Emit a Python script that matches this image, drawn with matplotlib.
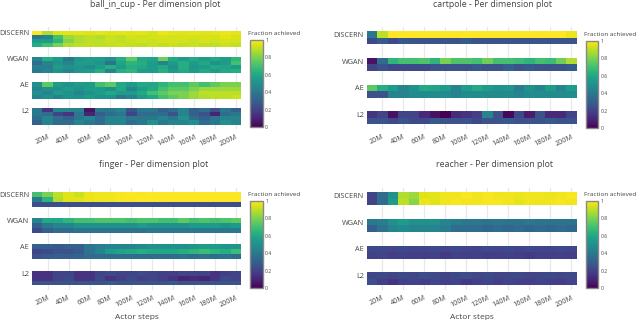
import matplotlib
matplotlib.use("Agg")
import matplotlib.pyplot as plt
import numpy as np

plt.rcParams['font.family'] = ['Open Sans', 'DejaVu Sans']

methods = ['DISCERN', 'WGAN', 'AE', 'L2']
steps = np.arange(10, 201, 10)          # millions of actor steps, one column each
tick_steps = np.arange(20, 201, 20)
tick_labels = ['%dM' % s for s in tick_steps]

# fraction achieved, per method -> per dimension (rows) -> per step (columns)
ball_in_cup = {
    'DISCERN': [
        [1.0, 0.88, 0.95, 0.96, 0.96, 0.95, 0.96, 0.95, 0.96, 0.95, 0.96, 0.94, 0.97, 0.96, 0.95, 0.96, 0.95, 0.96, 0.97, 0.96],
        [0.40, 0.45, 0.70, 0.85, 0.88, 0.90, 0.88, 0.92, 0.90, 0.93, 0.92, 0.93, 0.94, 0.93, 0.94, 0.93, 0.94, 0.93, 0.96, 0.94],
        [0.55, 0.55, 0.65, 0.82, 0.88, 0.90, 0.90, 0.92, 0.91, 0.92, 0.93, 0.92, 0.93, 0.94, 0.93, 0.92, 0.94, 0.93, 0.94, 0.93],
        [0.62, 0.70, 0.80, 0.88, 0.90, 0.91, 0.90, 0.91, 0.92, 0.91, 0.90, 0.92, 0.91, 0.92, 0.91, 0.92, 0.91, 0.90, 0.92, 0.91],
    ],
    'WGAN': [
        [0.45, 0.62, 0.55, 0.40, 0.52, 0.55, 0.55, 0.50, 0.62, 0.75, 0.60, 0.58, 0.78, 0.60, 0.55, 0.60, 0.55, 0.60, 0.55, 0.65],
        [0.35, 0.45, 0.50, 0.45, 0.55, 0.55, 0.52, 0.38, 0.58, 0.65, 0.62, 0.55, 0.45, 0.55, 0.62, 0.55, 0.60, 0.50, 0.55, 0.70],
        [0.42, 0.42, 0.55, 0.50, 0.52, 0.48, 0.55, 0.62, 0.55, 0.62, 0.60, 0.55, 0.60, 0.50, 0.62, 0.52, 0.55, 0.60, 0.58, 0.55],
        [0.40, 0.45, 0.50, 0.45, 0.52, 0.55, 0.62, 0.45, 0.62, 0.65, 0.55, 0.55, 0.62, 0.55, 0.60, 0.55, 0.60, 0.55, 0.60, 0.62],
    ],
    'AE': [
        [0.50, 0.75, 0.55, 0.50, 0.55, 0.55, 0.70, 0.75, 0.60, 0.55, 0.60, 0.60, 0.65, 0.70, 0.70, 0.75, 0.70, 0.75, 0.80, 0.80],
        [0.45, 0.50, 0.50, 0.55, 0.50, 0.55, 0.55, 0.50, 0.60, 0.45, 0.55, 0.60, 0.70, 0.75, 0.75, 0.80, 0.85, 0.85, 0.85, 0.85],
        [0.50, 0.45, 0.55, 0.50, 0.45, 0.50, 0.55, 0.60, 0.55, 0.55, 0.60, 0.70, 0.75, 0.80, 0.80, 0.85, 0.90, 0.90, 0.90, 0.90],
        [0.45, 0.50, 0.45, 0.50, 0.50, 0.55, 0.50, 0.50, 0.40, 0.45, 0.55, 0.60, 0.70, 0.75, 0.80, 0.85, 0.88, 0.90, 0.90, 0.92],
    ],
    'L2': [
        [0.40, 0.15, 0.45, 0.45, 0.45, 0.05, 0.40, 0.40, 0.45, 0.25, 0.40, 0.40, 0.30, 0.35, 0.45, 0.30, 0.35, 0.25, 0.40, 0.30],
        [0.40, 0.35, 0.20, 0.15, 0.40, 0.10, 0.30, 0.35, 0.40, 0.20, 0.35, 0.35, 0.35, 0.25, 0.45, 0.30, 0.25, 0.10, 0.35, 0.40],
        [0.35, 0.45, 0.35, 0.30, 0.40, 0.45, 0.35, 0.45, 0.45, 0.40, 0.40, 0.40, 0.45, 0.40, 0.50, 0.35, 0.30, 0.40, 0.45, 0.45],
        [0.30, 0.45, 0.35, 0.35, 0.45, 0.40, 0.35, 0.45, 0.45, 0.35, 0.40, 0.50, 0.40, 0.45, 0.45, 0.50, 0.35, 0.40, 0.50, 0.45],
    ],
}

cartpole = {
    'DISCERN': [
        [0.40, 0.90, 1.0, 1.0, 1.0, 1.0, 1.0, 1.0, 1.0, 1.0, 1.0, 1.0, 1.0, 1.0, 1.0, 1.0, 1.0, 1.0, 1.0, 0.97],
        [0.22, 0.28, 0.22, 0.27, 0.25, 0.25, 0.25, 0.25, 0.25, 0.28, 0.25, 0.25, 0.25, 0.25, 0.25, 0.25, 0.26, 0.25, 0.26, 0.25],
    ],
    'WGAN': [
        [0.05, 0.35, 0.65, 0.70, 0.70, 0.72, 0.65, 0.80, 0.72, 0.72, 0.70, 0.78, 0.70, 0.70, 0.68, 0.65, 0.70, 0.68, 0.78, 0.88],
        [0.20, 0.25, 0.22, 0.22, 0.22, 0.22, 0.25, 0.25, 0.25, 0.25, 0.28, 0.25, 0.25, 0.30, 0.25, 0.28, 0.25, 0.25, 0.25, 0.28],
    ],
    'AE': [
        [0.75, 0.62, 0.55, 0.45, 0.50, 0.60, 0.58, 0.55, 0.45, 0.55, 0.60, 0.55, 0.50, 0.52, 0.42, 0.50, 0.45, 0.55, 0.45, 0.55],
        [0.25, 0.25, 0.45, 0.45, 0.48, 0.48, 0.48, 0.48, 0.45, 0.48, 0.48, 0.48, 0.48, 0.48, 0.45, 0.48, 0.48, 0.48, 0.48, 0.48],
    ],
    'L2': [
        [0.15, 0.20, 0.05, 0.20, 0.20, 0.12, 0.05, 0.00, 0.12, 0.15, 0.18, 0.45, 0.25, 0.02, 0.22, 0.08, 0.25, 0.12, 0.12, 0.20],
        [0.25, 0.25, 0.22, 0.25, 0.22, 0.22, 0.28, 0.25, 0.25, 0.25, 0.22, 0.25, 0.25, 0.28, 0.25, 0.25, 0.25, 0.28, 0.25, 0.25],
    ],
}

finger = {
    'DISCERN': [
        [0.70, 0.80, 0.90, 0.95, 0.92, 0.97, 0.98, 0.98, 0.99, 1.0, 0.99, 1.0, 1.0, 1.0, 1.0, 1.0, 1.0, 1.0, 1.0, 1.0],
        [0.40, 0.65, 0.88, 0.95, 0.95, 0.97, 0.98, 0.98, 0.99, 0.99, 1.0, 1.0, 1.0, 1.0, 1.0, 1.0, 1.0, 1.0, 1.0, 1.0],
        [0.24, 0.24, 0.24, 0.24, 0.24, 0.24, 0.24, 0.24, 0.24, 0.24, 0.24, 0.24, 0.24, 0.24, 0.24, 0.24, 0.24, 0.24, 0.24, 0.24],
    ],
    'WGAN': [
        [0.45, 0.60, 0.60, 0.65, 0.70, 0.70, 0.72, 0.72, 0.72, 0.70, 0.72, 0.72, 0.70, 0.70, 0.75, 0.70, 0.72, 0.70, 0.72, 0.75],
        [0.30, 0.40, 0.45, 0.45, 0.50, 0.50, 0.50, 0.50, 0.50, 0.50, 0.55, 0.50, 0.50, 0.50, 0.50, 0.55, 0.55, 0.55, 0.50, 0.55],
        [0.22, 0.30, 0.35, 0.35, 0.38, 0.38, 0.38, 0.38, 0.38, 0.38, 0.38, 0.40, 0.40, 0.40, 0.40, 0.40, 0.40, 0.40, 0.40, 0.40],
    ],
    'AE': [
        [0.30, 0.30, 0.28, 0.30, 0.30, 0.40, 0.42, 0.45, 0.45, 0.45, 0.48, 0.50, 0.50, 0.50, 0.50, 0.52, 0.55, 0.55, 0.52, 0.52],
        [0.20, 0.22, 0.25, 0.25, 0.28, 0.38, 0.45, 0.55, 0.58, 0.60, 0.62, 0.60, 0.60, 0.60, 0.62, 0.65, 0.68, 0.65, 0.62, 0.68],
        [0.25, 0.28, 0.30, 0.30, 0.32, 0.35, 0.35, 0.35, 0.35, 0.35, 0.35, 0.35, 0.35, 0.35, 0.38, 0.35, 0.38, 0.35, 0.38, 0.35],
    ],
    'L2': [
        [0.15, 0.15, 0.20, 0.20, 0.15, 0.15, 0.20, 0.22, 0.20, 0.20, 0.22, 0.20, 0.18, 0.18, 0.20, 0.20, 0.20, 0.15, 0.18, 0.20],
        [0.15, 0.15, 0.20, 0.22, 0.15, 0.15, 0.22, 0.15, 0.18, 0.22, 0.18, 0.20, 0.18, 0.15, 0.10, 0.12, 0.10, 0.15, 0.22, 0.20],
        [0.25, 0.25, 0.25, 0.25, 0.25, 0.25, 0.25, 0.28, 0.25, 0.25, 0.25, 0.25, 0.25, 0.28, 0.25, 0.25, 0.25, 0.25, 0.25, 0.25],
    ],
}

reacher = {
    'DISCERN': [
        [0.20, 0.35, 0.50, 0.88, 0.85, 0.95, 0.96, 0.98, 0.98, 0.99, 0.98, 0.99, 0.98, 0.98, 0.97, 0.98, 0.98, 0.97, 0.98, 0.99],
        [0.20, 0.35, 0.55, 0.90, 0.82, 0.97, 0.95, 0.98, 0.99, 0.98, 0.98, 0.99, 0.99, 0.98, 0.96, 0.98, 0.97, 0.98, 0.99, 0.98],
    ],
    'WGAN': [
        [0.40, 0.42, 0.50, 0.55, 0.50, 0.50, 0.50, 0.45, 0.42, 0.40, 0.40, 0.38, 0.40, 0.38, 0.38, 0.40, 0.38, 0.38, 0.38, 0.38],
        [0.30, 0.38, 0.45, 0.48, 0.45, 0.45, 0.45, 0.42, 0.35, 0.35, 0.35, 0.33, 0.35, 0.33, 0.35, 0.33, 0.35, 0.33, 0.35, 0.33],
    ],
    'AE': [
        [0.22, 0.22, 0.21, 0.22, 0.20, 0.21, 0.22, 0.20, 0.22, 0.21, 0.20, 0.22, 0.21, 0.22, 0.20, 0.22, 0.21, 0.20, 0.22, 0.21],
        [0.19, 0.20, 0.18, 0.19, 0.18, 0.18, 0.19, 0.17, 0.19, 0.18, 0.19, 0.18, 0.18, 0.19, 0.18, 0.17, 0.19, 0.18, 0.19, 0.18],
    ],
    'L2': [
        [0.21, 0.22, 0.20, 0.22, 0.21, 0.23, 0.22, 0.20, 0.22, 0.23, 0.21, 0.22, 0.20, 0.21, 0.22, 0.20, 0.21, 0.22, 0.21, 0.22],
        [0.24, 0.18, 0.15, 0.19, 0.20, 0.18, 0.21, 0.19, 0.20, 0.17, 0.19, 0.20, 0.18, 0.20, 0.19, 0.18, 0.20, 0.19, 0.18, 0.20],
    ],
}

panels = [('ball_in_cup', ball_in_cup), ('cartpole', cartpole),
          ('finger', finger), ('reacher', reacher)]

# group height (in units of group pitch) for 2, 3 and 4 dimensions
group_h = {2: 0.49, 3: 0.56, 4: 0.64}

fig = plt.figure(figsize=(6.4, 3.2), dpi=100)
txt = '#444444'

ax_pos = [
    (0.050, 0.597, 0.327, 0.320),
    (0.573, 0.597, 0.328, 0.320),
    (0.050, 0.094, 0.327, 0.320),
    (0.573, 0.094, 0.328, 0.320),
]
cb_pos = [
    (0.391, 0.603, 0.020, 0.272),
    (0.915, 0.600, 0.020, 0.272),
    (0.391, 0.100, 0.020, 0.272),
    (0.915, 0.100, 0.020, 0.272),
]
title_xy = [(0.243, 0.985), (0.770, 0.985), (0.240, 0.486), (0.773, 0.486)]

x_edges = np.append(steps - 5, steps[-1] + 5)
cmap = plt.get_cmap('viridis')

for i, (name, data) in enumerate(panels):
    ax = fig.add_axes(ax_pos[i])
    n_rows = len(data['DISCERN'])
    h = group_h[n_rows]
    ytick_pos = []
    for g, m in enumerate(methods):
        vals = np.array(data[m])
        y_edges = g + np.linspace(0, h, n_rows + 1)
        mesh = ax.pcolormesh(x_edges, y_edges, vals, cmap=cmap, vmin=0, vmax=1,
                             shading='flat', zorder=2)
        ytick_pos.append((y_edges[0] + y_edges[1]) / 2)
    ax.set_xlim(x_edges[0], x_edges[-1])
    ax.set_ylim(3 + h + 0.17, -0.17)
    ax.set_xticks(tick_steps)
    ax.set_xticklabels(tick_labels, rotation=25, ha='right', rotation_mode='anchor',
                       fontsize=5.2, color=txt)
    ax.set_yticks(ytick_pos)
    ax.set_yticklabels(methods, fontsize=5.2, color=txt)
    ax.tick_params(length=0, pad=2)
    ax.tick_params(axis='x', pad=3)
    ax.grid(axis='x', color='#e8e8e8', linewidth=0.9, zorder=0)
    ax.set_axisbelow(True)
    for s in ax.spines.values():
        s.set_visible(False)
    fig.text(title_xy[i][0], title_xy[i][1], name + ' - Per dimension plot',
             fontsize=6.3, color=txt, ha='center', va='center')
    if i >= 2:
        ax.set_xlabel('Actor steps', fontsize=6, color=txt, labelpad=4)

    cax = fig.add_axes(cb_pos[i])
    cb = fig.colorbar(mesh, cax=cax, ticks=[0, 0.2, 0.4, 0.6, 0.8, 1])
    cb.set_ticklabels(['0', '0.2', '0.4', '0.6', '0.8', '1'])
    cb.outline.set_edgecolor('#888888')
    cb.outline.set_linewidth(1.0)
    cax.tick_params(labelsize=3.6, length=0, pad=1.5, colors=txt)
    fig.text(cb_pos[i][0] - 0.003, cb_pos[i][1] + cb_pos[i][3] + 0.012, 'Fraction achieved',
             fontsize=4.6, color=txt, ha='left', va='bottom')

fig.savefig('out.png', dpi=100)
